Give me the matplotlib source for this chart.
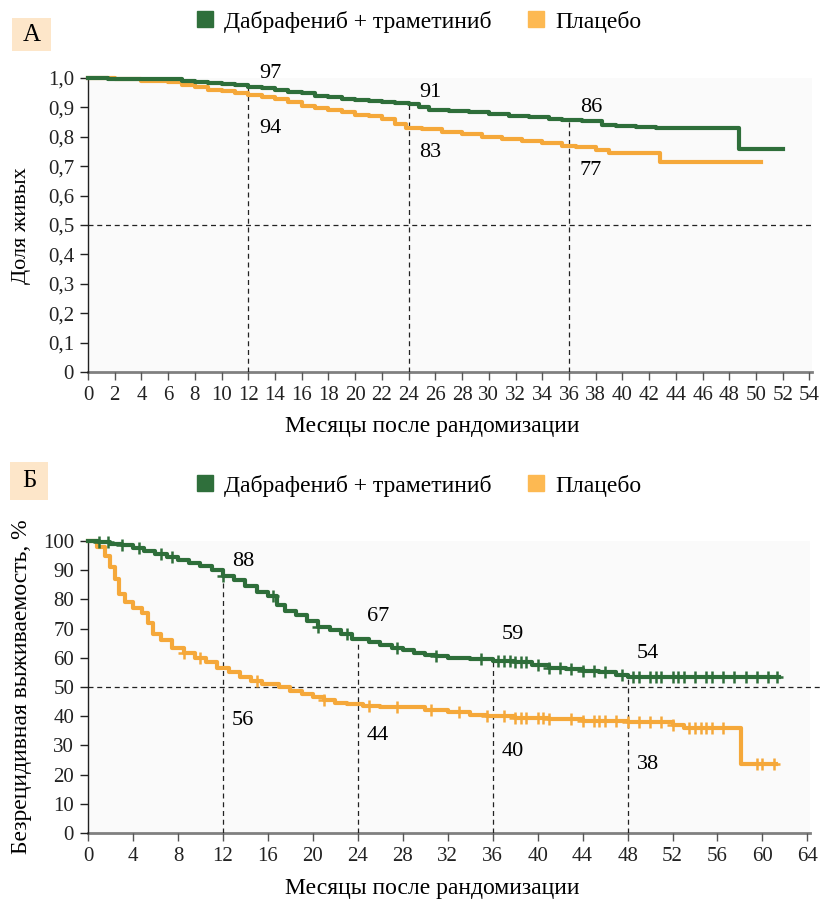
import numpy as np
import matplotlib
matplotlib.use('Agg')
import matplotlib.pyplot as plt
from matplotlib.lines import Line2D
from matplotlib.patches import Rectangle

plt.rcParams['font.family'] = ['Liberation Serif', 'DejaVu Serif']
plt.rcParams['font.size'] = 15

GREEN = '#2e6e3a'
ORANGE = '#f5a83a'
LEG_GREEN = '#2f6f3b'
LEG_ORANGE = '#fdb952'
BOX = '#fde6c9'

LABELS = ['Дабрафениб + траметиниб', 'Плацебо']
XLABEL = 'Месяцы после рандомизации'

# Panel A: overall survival (fraction alive)
os_green_t = [0, 1.5, 3, 6, 7, 8, 9, 10, 11, 12, 13, 14, 15, 16, 17, 18, 19, 20,
              21, 22, 23, 24, 24.8, 25.5, 27, 28.5, 30, 31.5, 33, 34.5, 35.5, 37,
              38.5, 39.5, 41, 42.5, 48.7, 52]
os_green_v = [1.0, 0.998, 0.997, 0.995, 0.99, 0.985, 0.982, 0.978, 0.975, 0.97,
              0.965, 0.96, 0.953, 0.948, 0.94, 0.935, 0.93, 0.925, 0.922, 0.92,
              0.915, 0.91, 0.9, 0.892, 0.888, 0.883, 0.878, 0.872, 0.868, 0.862,
              0.858, 0.855, 0.84, 0.838, 0.835, 0.83, 0.758, 0.758]
os_orange_t = [0, 2, 4, 6, 7, 8, 9, 10, 11, 12, 13, 14, 15, 16, 17, 18, 19, 20,
               21, 22, 23, 23.8, 25, 26.5, 28, 29.5, 31, 32.5, 34, 35.5, 36.5, 38,
               39, 42.8, 50.4]
os_orange_v = [1.0, 0.995, 0.99, 0.985, 0.975, 0.968, 0.96, 0.955, 0.95, 0.943,
               0.935, 0.928, 0.918, 0.905, 0.898, 0.89, 0.883, 0.875, 0.87, 0.862,
               0.845, 0.83, 0.825, 0.815, 0.808, 0.8, 0.792, 0.785, 0.778, 0.77,
               0.765, 0.755, 0.745, 0.715, 0.715]
os_marks = [12, 24, 36]
os_green_lbl = ['97', '91', '86']
os_orange_lbl = ['94', '83', '77']
os_xticks = list(range(0, 55, 2))
os_yticks = [0, 0.1, 0.2, 0.3, 0.4, 0.5, 0.6, 0.7, 0.8, 0.9, 1.0]
os_ytick_lbl = ['0', '0,1', '0,2', '0,3', '0,4', '0,5', '0,6', '0,7', '0,8', '0,9', '1,0']

# Panel B: relapse-free survival, %
rfs_green_t = [0, 1, 2, 3, 4, 5, 6, 7, 8, 9, 10, 11, 12, 13, 14, 15, 16, 16.8,
               17.5, 18.5, 19.5, 20.5, 21.5, 22.5, 23.5, 25, 26, 27, 28, 29, 30,
               31, 32, 34, 36, 38, 39.5, 41, 42.5, 44, 45.5, 47, 48, 61.5]
rfs_green_v = [100, 99.5, 99, 98.5, 97.5, 96.5, 95.5, 94.5, 93.5, 92.5, 91.5, 90,
               88, 86.5, 84.5, 82.5, 81, 78, 76, 74.5, 72.5, 70.5, 69.5, 68, 66.5,
               65.5, 64.5, 63.5, 62.5, 61.5, 61, 60.5, 60, 59.5, 59, 58.5, 57.5,
               56.5, 56, 55.5, 55, 54, 53.5, 53.5]
rfs_orange_t = [0, 0.8, 1.5, 2.0, 2.4, 2.8, 3.3, 4, 4.8, 5.3, 5.8, 6.5, 7.5, 8.5,
                9.5, 10.5, 11.5, 12.5, 13.5, 14.5, 15.5, 17, 18, 19, 20, 21, 22,
                23, 24.5, 26, 28, 30, 32, 34, 35.5, 38, 41, 44, 48, 52, 53, 58.1,
                61.2]
rfs_orange_v = [100, 98, 95, 91, 87, 82, 79, 77, 75.5, 72, 68, 66, 63.5, 61.5, 60,
                58.5, 56.5, 55, 53.5, 52, 51, 50, 48.5, 47.5, 46.5, 45.5, 44.5, 44,
                43.5, 43, 43, 42, 41.5, 40.5, 40, 39.5, 39, 38.5, 38, 37, 36, 23.5,
                23.5]
rfs_green_cens = [1.0, 1.8, 3.0, 4.5, 6.5, 7.5, 12.0, 16.5, 20.5, 23.0, 27.5, 31.0,
                  35.0, 36.5, 37.0, 37.5, 38.0, 38.5, 39.0, 40.0, 41.0, 42.0, 43.0,
                  44.0, 45.0, 46.0, 47.5, 48.5, 49.0, 50.0, 50.5, 51.0, 52.0, 52.5,
                  53.0, 54.0, 55.0, 55.5, 56.5, 57.5, 58.5, 59.5, 60.5, 61.3]
rfs_orange_cens = [8.5, 10.0, 15.0, 21.0, 25.0, 27.5, 30.5, 33.0, 35.5, 37.0, 38.0,
                   38.5, 39.0, 40.0, 40.5, 41.0, 43.0, 44.0, 45.0, 45.5, 46.0, 47.0,
                   48.0, 49.0, 50.0, 51.0, 52.0, 53.5, 54.0, 54.5, 55.0, 55.5, 56.5,
                   59.5, 60.0, 61.0]
rfs_marks = [12, 24, 36, 48]
rfs_green_lbl = ['88', '67', '59', '54']
rfs_orange_lbl = ['56', '44', '40', '38']
rfs_xticks = list(range(0, 65, 4))
rfs_yticks = list(range(0, 101, 10))

# label offsets from the curve (layout only)
os_green_off = [0.047, 0.04, 0.043]
os_orange_off = [-0.113, -0.085, -0.085]
rfs_green_off = [5.0, 7.8, 9.0, 8.0]
rfs_orange_off = [-18.0, -10.6, -12.0, -14.4]


def step_at(t, v, x):
    i = np.searchsorted(t, x, side='right') - 1
    return np.asarray(v)[i]


def style_axes(ax, xmax, ymax, xticks, yticks, yticklabels):
    ax.set_facecolor('#fafafa')
    ax.set_xlim(0, xmax)
    ax.set_ylim(0, ymax)
    for s in ['top', 'right']:
        ax.spines[s].set_visible(False)
    ax.spines['left'].set_linewidth(1.0)
    ax.spines['left'].set_color('#222222')
    ax.spines['bottom'].set_linewidth(2.0)
    ax.spines['bottom'].set_color('#808080')
    ax.spines['bottom'].set_zorder(0.5)
    ax.set_xticks(xticks)
    ax.set_yticks(yticks)
    ax.set_yticklabels(yticklabels)
    ax.tick_params(axis='both', direction='out', length=6, width=1.0,
                   colors='#222222', labelsize=15, pad=4)
    ax.tick_params(axis='x', colors='#555555', labelcolor='#222222')


def legend(fig, y):
    handles = [Line2D([], [], ls='none', marker='s', ms=12, color=LEG_GREEN),
               Line2D([], [], ls='none', marker='s', ms=12, color=LEG_ORANGE)]
    fig.legend(handles, LABELS, ncol=2, loc='center', bbox_to_anchor=(0.508, y),
               frameon=False, fontsize=17, handletextpad=0.3, columnspacing=1.4,
               handlelength=1.0)


def panel_box(fig, x, y, w, h, text):
    fig.patches.append(Rectangle((x, y), w, h, transform=fig.transFigure,
                                 facecolor=BOX, edgecolor='none'))
    fig.text(x + w / 2, y + h / 2, text, ha='center', va='center', fontsize=18)


fig = plt.figure(figsize=(8.21, 9.01), dpi=100)

# ---- Panel A
ax1 = fig.add_axes([0.1072, 0.5871, 0.882, 0.3263])
style_axes(ax1, 54.2, 1.0, os_xticks, os_yticks, os_ytick_lbl)
ax1.axhline(0.5, color='#222222', lw=0.9, ls=(0, (4, 3)), zorder=1)
for m in os_marks:
    ax1.plot([m, m], [0, step_at(os_green_t, os_green_v, m)], color='#222222',
             lw=0.9, ls=(0, (4, 3)), zorder=1)
ax1.step(os_orange_t, os_orange_v, where='post', color=ORANGE, lw=3, zorder=3,
         clip_on=False)
ax1.step(os_green_t, os_green_v, where='post', color=GREEN, lw=3, zorder=4,
         clip_on=False)
for m, lg, lo, dg, do in zip(os_marks, os_green_lbl, os_orange_lbl,
                             os_green_off, os_orange_off):
    ax1.text(m + 0.8, step_at(os_green_t, os_green_v, m) + dg, lg,
             ha='left', va='center', fontsize=16, zorder=5)
    ax1.text(m + 0.8, step_at(os_orange_t, os_orange_v, m) + do, lo,
             ha='left', va='center', fontsize=16, zorder=5)
fig.text(0.026, 0.750, 'Доля живых', rotation=90, ha='center', va='center',
         fontsize=16)
fig.text(0.526, 0.527, XLABEL, ha='center', va='center', fontsize=17)
legend(fig, 0.976)
panel_box(fig, 0.0146, 0.943, 0.047, 0.037, 'А')

# ---- Panel B
ax2 = fig.add_axes([0.1072, 0.0755, 0.879, 0.3241])
style_axes(ax2, 64.2, 100, rfs_xticks, rfs_yticks, [str(v) for v in rfs_yticks])
ax2.plot([0, 65.3], [50, 50], color='#222222', lw=0.9, ls=(0, (4, 3)), zorder=1,
         clip_on=False)
for m in rfs_marks:
    ax2.plot([m, m], [0, step_at(rfs_green_t, rfs_green_v, m)], color='#222222',
             lw=0.9, ls=(0, (4, 3)), zorder=1)
ax2.step(rfs_orange_t, rfs_orange_v, where='post', color=ORANGE, lw=3, zorder=3,
         clip_on=False)
ax2.step(rfs_green_t, rfs_green_v, where='post', color=GREEN, lw=3, zorder=4,
         clip_on=False)
ax2.plot(rfs_orange_cens, step_at(rfs_orange_t, rfs_orange_v, rfs_orange_cens),
         ls='none', marker='+', ms=9, mew=1.8, color=ORANGE, zorder=3,
         clip_on=False)
ax2.plot(rfs_green_cens, step_at(rfs_green_t, rfs_green_v, rfs_green_cens),
         ls='none', marker='+', ms=9, mew=1.8, color=GREEN, zorder=4,
         clip_on=False)
for m, lg, lo, dg, do in zip(rfs_marks, rfs_green_lbl, rfs_orange_lbl,
                             rfs_green_off, rfs_orange_off):
    ax2.text(m + 0.8, step_at(rfs_green_t, rfs_green_v, m) + dg, lg,
             ha='left', va='center', fontsize=16, zorder=5)
    ax2.text(m + 0.8, step_at(rfs_orange_t, rfs_orange_v, m) + do, lo,
             ha='left', va='center', fontsize=16, zorder=5)
fig.text(0.026, 0.2375, 'Безрецидивная выживаемость, %', rotation=90,
         ha='center', va='center', fontsize=17)
fig.text(0.526, 0.0144, XLABEL, ha='center', va='center', fontsize=17)
legend(fig, 0.461)
panel_box(fig, 0.012, 0.445, 0.047, 0.042, 'Б')

fig.savefig('out.png', dpi=100)
